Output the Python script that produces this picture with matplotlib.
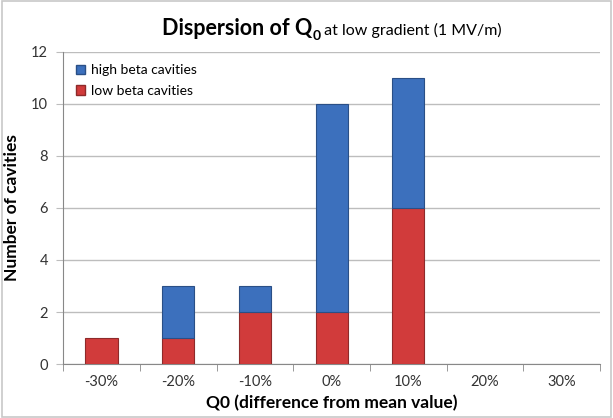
import matplotlib.pyplot as plt
import numpy as np
from matplotlib.patches import Patch, Rectangle

categories = ['-30%', '-20%', '-10%', '0%', '10%', '20%', '30%']
low_beta = [1, 1, 2, 2, 6, 0, 0]
high_beta = [0, 2, 1, 8, 5, 0, 0]

plt.rcParams['font.family'] = ['Lato', 'DejaVu Sans']

red = '#D13B3B'
blue = '#3C70BD'

fig = plt.figure(figsize=(6.13, 4.18), dpi=100)
fig.patches.append(Rectangle((0.003, 0.003), 0.994, 0.994, transform=fig.transFigure,
                             fill=False, edgecolor='#C8C8C8', lw=1.2))
ax = fig.add_axes([0.103, 0.129, 0.876, 0.747])

x = np.arange(len(categories))
w = 0.42
# no outline on empty bars
lw_low = [0.8 if v else 0 for v in low_beta]
lw_high = [0.8 if v else 0 for v in high_beta]
ax.bar(x, low_beta, w, color=red, edgecolor='#8E2A2A', linewidth=lw_low, zorder=3)
ax.bar(x, high_beta, w, bottom=low_beta, color=blue, edgecolor='#2A4F86',
       linewidth=lw_high, zorder=3)

ax.set_xlim(-0.5, len(categories) - 0.5)
ax.set_ylim(0, 12)
ax.set_yticks(range(0, 13, 2))
ax.yaxis.grid(True, color='#BDBDBD', lw=1, zorder=0)
ax.set_xticks(x)
ax.set_xticklabels(categories, fontsize=10.5, color='#333333')
ax.set_xticks(np.arange(-0.5, len(categories)), minor=True)
ax.tick_params(axis='x', which='major', length=0, pad=8)
ax.tick_params(axis='x', which='minor', length=5, color='#888888')
ax.tick_params(axis='y', length=5, color='#BDBDBD', labelsize=10.5, labelcolor='#333333', pad=6)
for s in ['top', 'right']:
    ax.spines[s].set_visible(False)
ax.spines['left'].set_color('#888888')
ax.spines['bottom'].set_color('#888888')

ax.set_ylabel('Number of cavities', fontsize=12.5, fontweight='bold', labelpad=8)
ax.set_xlabel('Q0 (difference from mean value)', fontsize=12.5, fontweight='bold', labelpad=4)

handles = [Patch(facecolor=blue, edgecolor='#2A4F86'), Patch(facecolor=red, edgecolor='#8E2A2A')]
ax.legend(handles, ['high beta cavities', 'low beta cavities'], loc='upper left',
          bbox_to_anchor=(0.0, 1.0), frameon=False, fontsize=10, handlelength=0.7,
          handleheight=0.7, handletextpad=0.4, labelspacing=0.6)

# title built from pieces: bold part, subscript, regular part
fig.canvas.draw()
r = fig.canvas.get_renderer()
ty = 1 - 35 / 418
t1 = fig.text(0, ty, 'Dispersion of Q', fontsize=15.5, fontweight='bold')
t2 = fig.text(0, ty - 0.012, '0', fontsize=10, fontweight='bold')
t3 = fig.text(0, ty, ' at low gradient (1 MV/m)', fontsize=11.5)
w1 = t1.get_window_extent(r).width
w2 = t2.get_window_extent(r).width
w3 = t3.get_window_extent(r).width
total = w1 + w2 + w3
x0 = (332 - total / 2) / fig.bbox.width
t1.set_x(x0)
t2.set_x(x0 + w1 / fig.bbox.width)
t3.set_x(x0 + (w1 + w2) / fig.bbox.width)

fig.savefig('out.png', dpi=100)
